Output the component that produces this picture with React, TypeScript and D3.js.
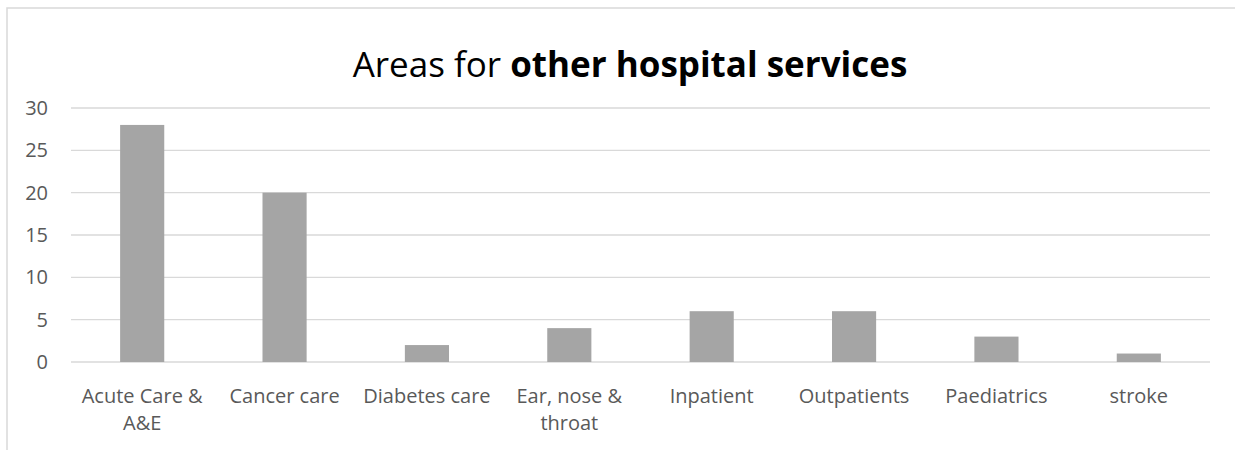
import React, { useEffect, useRef } from "react";
import * as d3 from "d3";

const categories = [
  "Acute Care & A&E",
  "Cancer care",
  "Diabetes care",
  "Ear, nose & throat",
  "Inpatient",
  "Outpatients",
  "Paediatrics",
  "stroke",
];
const counts = [28, 20, 2, 4, 6, 6, 3, 1];
const yTicks = [0, 5, 10, 15, 20, 25, 30];
const titleRegular = "Areas for ";
const titleBold = "other hospital services";

const W = 1235;
const H = 450;
const FONT = "'Open Sans', 'Noto Sans', sans-serif";

export default function App() {
  const ref = useRef<SVGSVGElement | null>(null);

  useEffect(() => {
    const svg = d3.select(ref.current);
    svg.selectAll("*").remove();

    const left = 71;
    const right = 1210;
    const top = 108;
    const bottom = 362;

    const x = d3.scaleBand<string>().domain(categories).range([left, right]).paddingInner(0.69).paddingOuter(0.345);
    const y = d3.scaleLinear().domain([0, 30]).range([bottom, top]);

    // chart frame
    svg
      .append("rect")
      .attr("x", 7)
      .attr("y", 8)
      .attr("width", W + 40)
      .attr("height", H + 40)
      .attr("fill", "#fff")
      .attr("stroke", "#d9d9d9")
      .attr("stroke-width", 1.5);

    // title
    const title = svg
      .append("text")
      .attr("x", 630)
      .attr("y", 77)
      .attr("text-anchor", "middle")
      .attr("font-family", FONT)
      .attr("font-size", 35)
      .attr("fill", "#000");
    title.append("tspan").text(titleRegular);
    title.append("tspan").attr("font-weight", "bold").text(titleBold);

    // gridlines
    svg
      .append("g")
      .selectAll("line")
      .data(yTicks)
      .join("line")
      .attr("x1", left)
      .attr("x2", right)
      .attr("y1", (d) => y(d))
      .attr("y2", (d) => y(d))
      .attr("stroke", "#d9d9d9")
      .attr("stroke-width", 1.3);

    // y tick labels
    svg
      .append("g")
      .selectAll("text")
      .data(yTicks)
      .join("text")
      .attr("x", 48)
      .attr("y", (d) => y(d))
      .attr("dy", "0.35em")
      .attr("text-anchor", "end")
      .attr("font-family", FONT)
      .attr("font-size", 20)
      .attr("fill", "#595959")
      .text((d) => String(d));

    // bars
    svg
      .append("g")
      .selectAll("rect")
      .data(counts)
      .join("rect")
      .attr("x", (_, i) => x(categories[i])!)
      .attr("width", x.bandwidth())
      .attr("y", (d) => y(d))
      .attr("height", (d) => y(0) - y(d))
      .attr("fill", "#a5a5a5");

    // category labels, wrapped to the band width
    const step = x.step();
    const labels = svg.append("g");
    categories.forEach((c) => {
      const cx = x(c)! + x.bandwidth() / 2;
      const t = labels
        .append("text")
        .attr("text-anchor", "middle")
        .attr("font-family", FONT)
        .attr("font-size", 20)
        .attr("fill", "#595959");
      const words = c.split(" ");
      const lines: string[] = [];
      let cur = "";
      const probe = t.append("tspan");
      words.forEach((w) => {
        const next = cur ? cur + " " + w : w;
        probe.text(next);
        const len = (probe.node() as SVGTSpanElement).getComputedTextLength();
        if (len > step - 2 && cur) {
          lines.push(cur);
          cur = w;
        } else {
          cur = next;
        }
      });
      if (cur) lines.push(cur);
      probe.remove();
      lines.forEach((ln, i) => {
        t.append("tspan").attr("x", cx).attr("y", 403 + i * 27).text(ln);
      });
    });
  }, []);

  return (
    <svg
      ref={ref}
      width={W}
      height={H}
      style={{ position: "absolute", left: 0, top: 0, background: "#fff" }}
    />
  );
}
